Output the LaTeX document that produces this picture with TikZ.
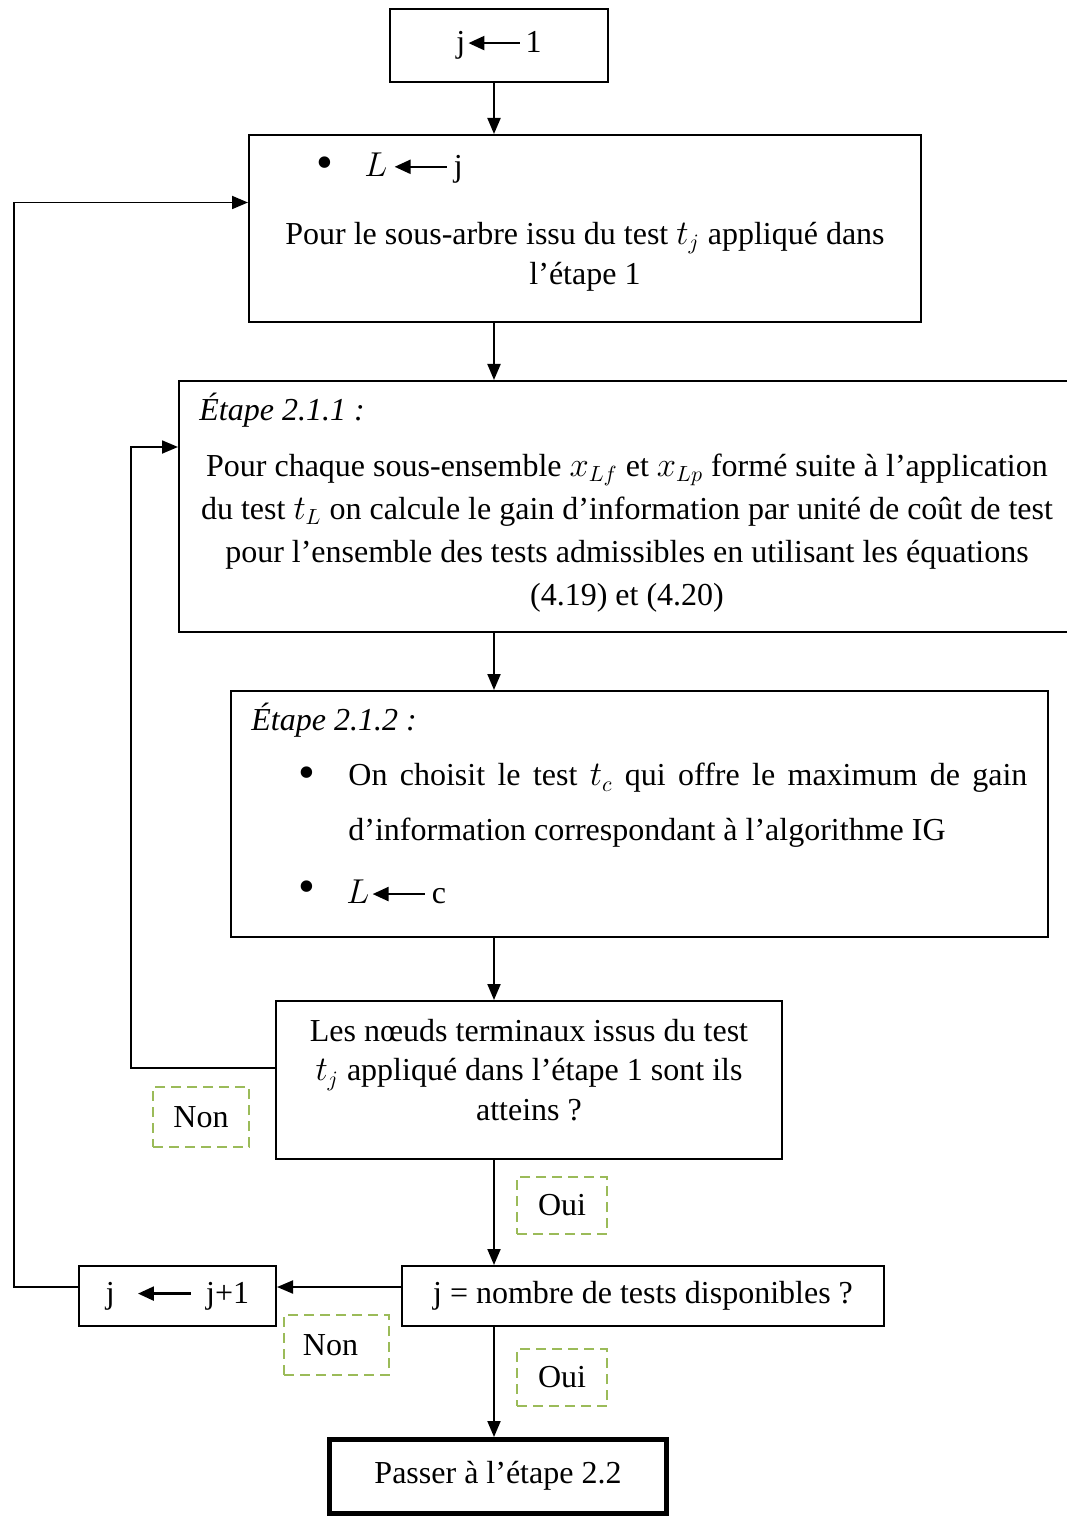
\documentclass[tikz,border=0pt]{standalone}
\usepackage{fontspec}
\setmainfont{Liberation Serif}
\usetikzlibrary{arrows.meta}
\definecolor{labelgreen}{HTML}{9BBB59}
% assignment arrow with a filled head, used inside the text
\newcommand\asgnarrow[1]{\tikz[baseline=-0.3em]\draw[line width=1.2pt,{Triangle[length=8pt,width=7pt]}-](0pt,0pt)--(#1,0pt);}
\newcommand\bigdot{{\fontsize{24}{24}\selectfont\textbullet}}
\begin{document}
\begin{tikzpicture}[x=0.5pt,y=-0.5pt,
  every node/.style={font=\fontsize{16}{19}\selectfont},
  box/.style={draw,line width=1pt,rectangle,inner sep=0pt},
  txt/.style={inner sep=0pt},
  tag/.style={draw=labelgreen,dashed,dash pattern=on 5pt off 3pt,line width=1.1pt,inner sep=0pt},
  arr/.style={line width=1pt,-{Triangle[length=8pt,width=6.5pt]}},
  loop/.style={line width=0.9pt,-{Triangle[length=8pt,width=6.5pt]}},
  ]
\useasboundingbox (0,0) rectangle (1066,1518);

% main column
\coordinate (axis) at (494,0);

\node[box,minimum width=109pt,minimum height=36.5pt] (init) at (499,45.5)
  {\raisebox{2pt}{j\hspace{1pt}\asgnarrow{26pt}\hspace{2pt}1}};

\node[box,minimum width=336pt,minimum height=93.5pt] (sub) at (585,228.5) {};
\node[txt] (subdot) at (325,168) {\bigdot};
\node[txt,anchor=west] (subL) at (364,168) {$L$\hspace{3pt}\asgnarrow{26pt}\hspace{3pt}j};
\node[txt,align=center,font=\fontsize{16}{20}\selectfont] (subtxt) at (585,257)
  {Pour le sous-arbre issu du test $t_j$ appliqué dans\\l’étape 1};

\node[box,minimum width=445.5pt,minimum height=125.5pt] (gain) at (624.5,506.5) {};
\node[txt,anchor=west] (gainhead) at (199,410) {\textit{Étape 2.1.1 :}};
\node[txt,align=center,font=\fontsize{16}{21.5}\selectfont] (gaintxt) at (627,533)
  {Pour chaque sous-ensemble $x_{Lf}$ et $x_{Lp}$ formé suite à l’application\\
   du test $t_L$ on calcule le gain d’information par unité de coût de test\\
   pour l’ensemble des tests admissibles en utilisant les équations\\
   (4.19) et (4.20)};

\node[box,minimum width=408.5pt,minimum height=123pt] (choice) at (639.5,814) {};
\node[txt,anchor=west] (choicehead) at (251,720) {\textit{Étape 2.1.2 :}};
\node[txt] (dotA) at (307,778) {\bigdot};
\node[txt,anchor=west] (lineA) at (348,778)
  {\makebox[339.5pt][s]{On choisit le test $t_c$ qui offre le maximum de gain}};
\node[txt,anchor=west] (lineB) at (348,833) {d’information correspondant à l’algorithme IG};
\node[txt] (dotB) at (307,892) {\bigdot};
\node[txt,anchor=west] (lineC) at (346,892) {$L$\hspace{1pt}\asgnarrow{26pt}\hspace{3pt}c};

\node[box,minimum width=253pt,minimum height=79pt] (reach) at (529,1080) {};
\node[txt,align=center,font=\fontsize{16}{19.75}\selectfont] (reachtxt) at (529,1070)
  {Les nœuds terminaux issus du test\\$t_j$ appliqué dans l’étape 1 sont ils\\atteins ?};

\node[box,minimum width=241pt,minimum height=30pt] (count) at (643,1296)
  {\raisebox{1pt}{j = nombre de tests disponibles ?}};
\node[box,minimum width=98.5pt,minimum height=30pt] (incr) at (177.5,1296)
  {j\hspace{11pt}\asgnarrow{26.5pt}\hspace{7pt}j+1};

\node[box,line width=2.5pt,minimum width=168.5pt,minimum height=37pt] (next) at (498,1476.5)
  {\raisebox{4pt}{Passer à l’étape 2.2}};

% decision labels
\node[tag,minimum width=48pt,minimum height=30pt] (no1) at (201,1117) {Non};
\node[tag,minimum width=45pt,minimum height=28.5pt] (yes1) at (562,1205.5) {Oui};
\node[tag,minimum width=52.5pt,minimum height=30pt] (no2) at (336.5,1345) {\hspace{-6pt}Non};
\node[tag,minimum width=45pt,minimum height=28.5pt] (yes2) at (562,1377.5) {Oui};

% vertical flow
\draw[arr] (init.south -| axis) -- (sub.north -| axis);
\draw[arr] (sub.south -| axis) -- (gain.north -| axis);
\draw[arr] (gain.south -| axis) -- (choice.north -| axis);
\draw[arr] (choice.south -| axis) -- (reach.north -| axis);
\draw[arr] (reach.south -| axis) -- (count.north -| axis);
\draw[arr] (count.south -| axis) -- (next.north -| axis);

% horizontal and feedback connectors
\draw[arr] ([yshift=4.5pt]count.west) -- ([yshift=4.5pt]incr.east);
\coordinate (outerloop) at (14,0);
\coordinate (innerloop) at (131,0);
\draw[loop] ([yshift=4.5pt]incr.west) -- ([yshift=4.5pt]incr.west -| outerloop)
  -- ([yshift=13pt]sub.west -| outerloop) -- ([yshift=13pt]sub.west);
\draw[loop] ([yshift=6pt]reach.west) -- ([yshift=6pt]reach.west -| innerloop)
  -- ([yshift=29.75pt]gain.west -| innerloop) -- ([yshift=29.75pt]gain.west);
\end{tikzpicture}
\end{document}
